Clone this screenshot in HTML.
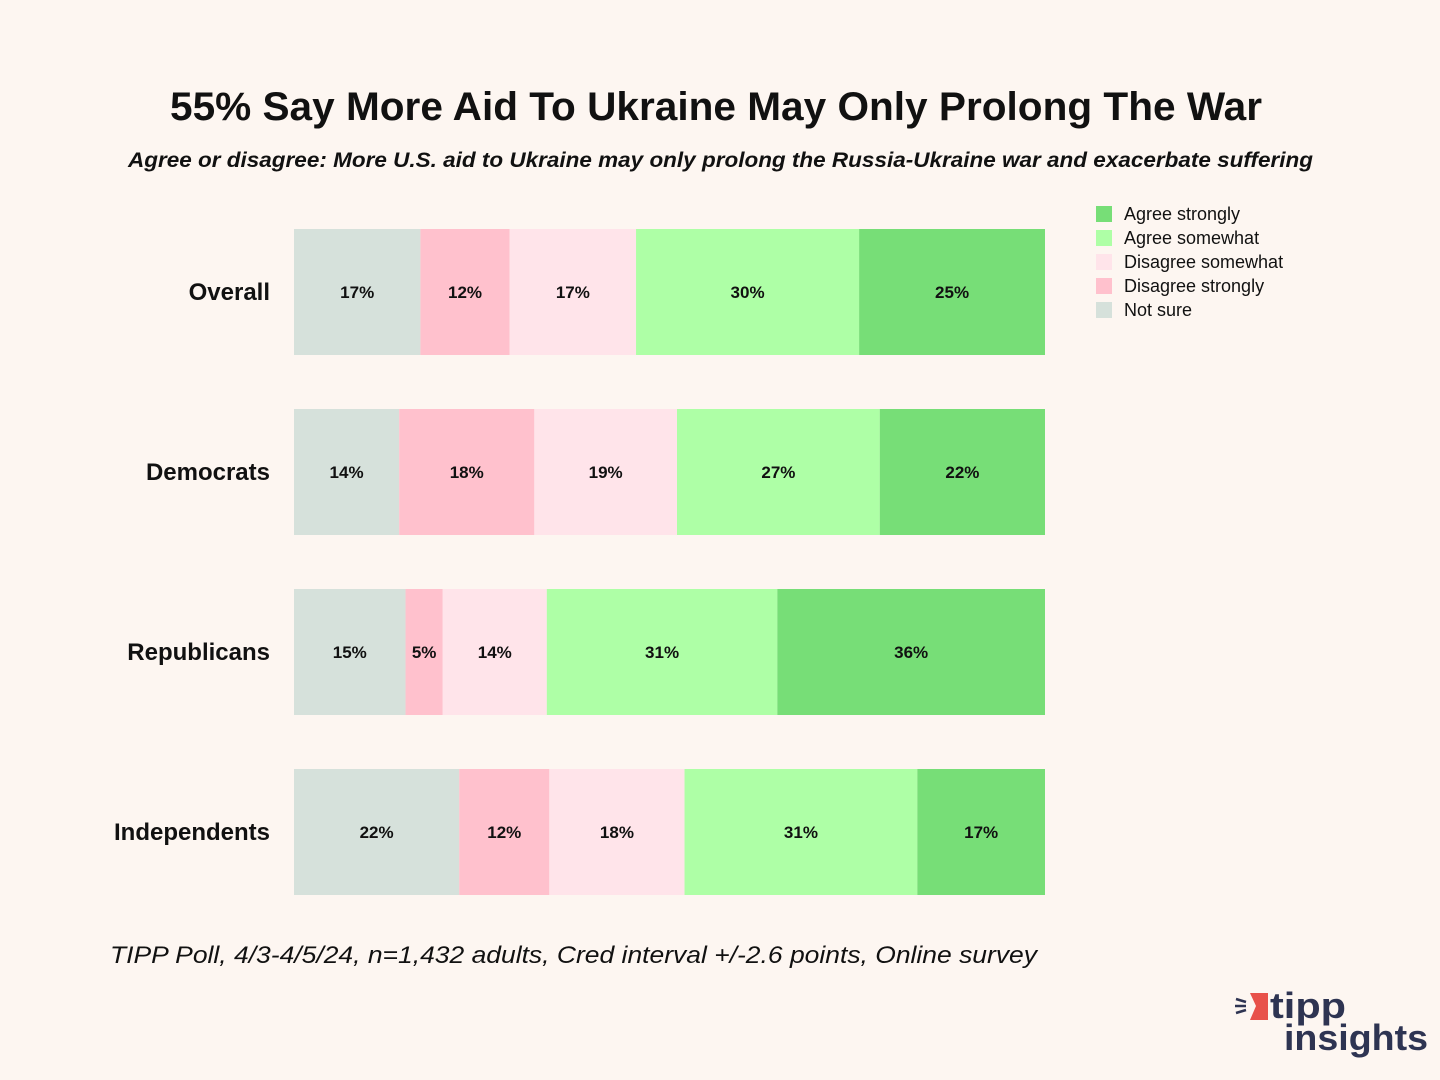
<!DOCTYPE html>
<html><head><meta charset="utf-8"><style>
html,body{margin:0;padding:0;background:#fdf6f1;}
svg{display:block;font-family:"Liberation Sans",sans-serif;}
</style></head><body>
<svg id="chart" width="1440" height="1080" viewBox="0 0 1440 1080">
<rect width="1440" height="1080" fill="#fdf6f1"/>
<text x="170" y="120" font-size="40" font-weight="bold" fill="#111" textLength="1092" lengthAdjust="spacingAndGlyphs">55% Say More Aid To Ukraine May Only Prolong The War</text>
<text x="128" y="167" font-size="21" font-style="italic" font-weight="bold" fill="#111" textLength="1185" lengthAdjust="spacingAndGlyphs">Agree or disagree: More U.S. aid to Ukraine may only prolong the Russia-Ukraine war and exacerbate suffering</text>
<g id="bars"></g>
<g id="legend"></g>
<text x="110" y="963" font-size="24" font-style="italic" fill="#111" textLength="927" lengthAdjust="spacingAndGlyphs">TIPP Poll, 4/3-4/5/24, n=1,432 adults, Cred interval +/-2.6 points, Online survey</text>
<g>
<path d="M1250 993 L1268 993 L1268 1020 L1250 1020 L1256 1006 Z" fill="#e8514a"/>
<path d="M1236 999 L1246 1002 M1235 1006 L1246 1006 M1236 1013 L1246 1010" stroke="#2e3452" stroke-width="2.5"/>
<text x="1270" y="1018" font-size="36" font-weight="bold" fill="#2e3452" textLength="76" lengthAdjust="spacingAndGlyphs">tipp</text>
<text x="1284" y="1050" font-size="36" font-weight="bold" fill="#2e3452" textLength="144" lengthAdjust="spacingAndGlyphs">insights</text>
</g>
</svg>
<script>
const groups = ["Overall","Democrats","Republicans","Independents"];
const seriesNames = ["Not sure","Disagree strongly","Disagree somewhat","Agree somewhat","Agree strongly"];
const notSure = [17,14,15,22];
const disagreeStrongly = [12,18,5,12];
const disagreeSomewhat = [17,19,14,18];
const agreeSomewhat = [30,27,31,31];
const agreeStrongly = [25,22,36,17];
const colors = ["#d6e1db","#ffc1cd","#ffe4ea","#aeffa6","#77de77"];
const series = [notSure,disagreeStrongly,disagreeSomewhat,agreeSomewhat,agreeStrongly];
const NS="http://www.w3.org/2000/svg";
const x0=294,x1=1045,rowTop=229,rowStep=180,barH=126;
function yScale(i){return rowTop+i*rowStep;}
function xScale(v,total){return x0+(x1-x0)*v/total;}
const bars=document.getElementById('bars');
groups.forEach((g,i)=>{
  const y=yScale(i);
  let total=0; series.forEach(s=>total+=s[i]);
  const lab=document.createElementNS(NS,'text');
  lab.setAttribute('x',270);lab.setAttribute('y',y+barH/2+8);lab.setAttribute('text-anchor','end');
  lab.setAttribute('font-size','24');lab.setAttribute('font-weight','bold');lab.setAttribute('fill','#111');
  lab.textContent=g;
  
  
  bars.appendChild(lab);
  let cum=0;
  series.forEach((s,k)=>{
    const a=xScale(cum,total),b=xScale(cum+s[i],total);
    const r=document.createElementNS(NS,'rect');
    r.setAttribute('x',a);r.setAttribute('y',y);r.setAttribute('width',b-a);r.setAttribute('height',barH);r.setAttribute('fill',colors[k]);
    
    
    bars.appendChild(r);
    const t=document.createElementNS(NS,'text');
    t.setAttribute('x',(a+b)/2);t.setAttribute('y',y+barH/2+6);t.setAttribute('text-anchor','middle');
    t.setAttribute('font-size','17');t.setAttribute('font-weight','bold');t.setAttribute('fill','#111');
    t.textContent=s[i]+'%';
    
    
    bars.appendChild(t);
    cum+=s[i];
  });
});
const legend=document.getElementById('legend');
const legendOrder=[4,3,2,1,0];
legendOrder.forEach((k,j)=>{
  const y=206+j*24;
  const r=document.createElementNS(NS,'rect');
  r.setAttribute('x',1096);r.setAttribute('y',y);r.setAttribute('width',16);r.setAttribute('height',16);r.setAttribute('fill',colors[k]);
  
  
  legend.appendChild(r);
  const t=document.createElementNS(NS,'text');
  t.setAttribute('x',1124);t.setAttribute('y',y+14);t.setAttribute('font-size','18');t.setAttribute('fill','#111');
  t.textContent=seriesNames[k];
  
  
  legend.appendChild(t);
});
</script>
</body></html>
